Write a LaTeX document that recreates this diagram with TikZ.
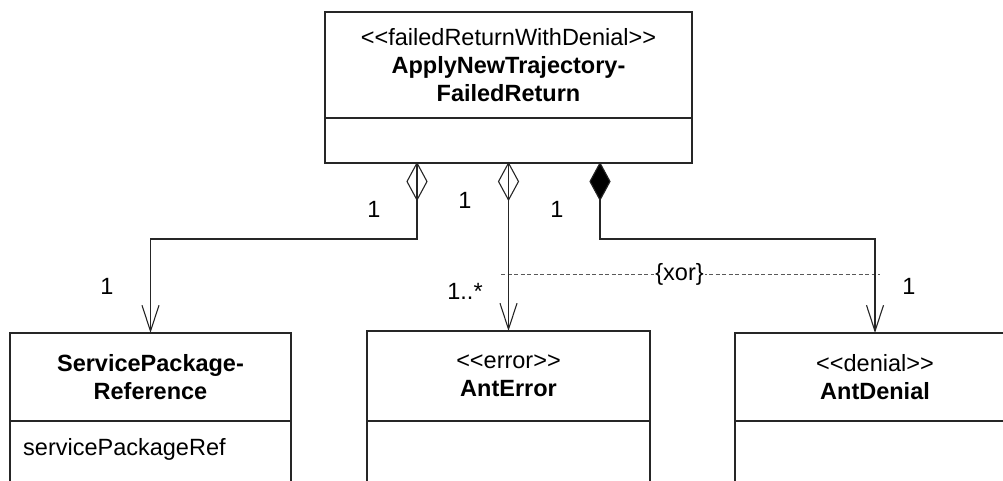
\documentclass[tikz,border=0pt]{standalone}
\usepackage{fontspec}
\setmainfont{Liberation Sans}
\usetikzlibrary{positioning,arrows.meta}

\newcommand\stereo[1]{<\kern0pt<#1>\kern0pt>}

\tikzset{
  uml/.style={font=\fontsize{23.5}{28}\selectfont},
  classhead/.style={uml, draw=black!85, line width=1.1pt, outer sep=0pt, inner sep=0pt, align=center},
  classbody/.style={draw=black!85, line width=1.1pt, outer sep=0pt, inner sep=0pt},
  assoc/.style={draw=black!85, line width=1.1pt, -{Straight Barb[length=26pt,width=17pt]}},
  xorline/.style={draw=black!65, line width=0.9pt, dash pattern=on 4pt off 2.5pt},
  umldiamond/.pic={\draw[black!85, line width=1.1pt, fill=#1] (0,0) -- (10,-18.5) -- (0,-37) -- (-10,-18.5) -- cycle;}
}

\begin{document}
\begin{tikzpicture}[x=1pt,y=1pt]

\useasboundingbox (0,0) rectangle (1003,-480);
\clip (0,0) rectangle (1003,-480);

% -------------------------------------------------
% Classes
% -------------------------------------------------
\node[classhead, minimum width=367pt, minimum height=106pt] (anf) at (508.5,-65)
  {\stereo{failedReturnWithDenial}\\\textbf{ApplyNewTrajectory-}\\\textbf{FailedReturn}};
\node[classbody, minimum width=367pt, minimum height=45pt, below=0pt of anf] (anfops) {};

\node[classhead, minimum width=281pt, minimum height=88pt] (spr) at (150.5,-377)
  {\textbf{ServicePackage-}\\\textbf{Reference}};
\node[classbody, minimum width=281pt, minimum height=70pt, below=0pt of spr] (sprattr) {};
\node[uml, inner sep=0pt, anchor=base west] (sprref) at ([xshift=13pt,yshift=-34pt]sprattr.north west)
  {servicePackageRef};

\node[classhead, minimum width=283pt, minimum height=90pt] (err) at (508.5,-376)
  {\stereo{error}\\\textbf{AntError}};
\node[classbody, minimum width=283pt, minimum height=70pt, below=0pt of err] (errattr) {};

\node[classhead, minimum width=280pt, minimum height=88pt] (den) at (875,-377)
  {\stereo{denial}\\\textbf{AntDenial}};
\node[classbody, minimum width=280pt, minimum height=70pt, below=0pt of den] (denattr) {};

% -------------------------------------------------
% {xor} constraint
% -------------------------------------------------
\coordinate (xorl) at (501,-274);
\coordinate (xorr) at (880,-274);
\draw[xorline] (xorl) -- node[uml, pos=0.471, fill=white, inner xsep=1pt, inner ysep=0pt] (xor) {\{xor\}} (xorr);

% -------------------------------------------------
% Associations
% -------------------------------------------------
\draw[assoc] ([xshift=-91.5pt]anfops.south) -- ++(0,-76) -| (spr.north);
\draw[assoc] (anfops.south) -- (err.north);
\draw[assoc] ([xshift=91.5pt]anfops.south) -- ++(0,-76) -| (den.north);

\pic at ([xshift=-91.5pt]anfops.south) {umldiamond=none};
\pic at (anfops.south) {umldiamond=none};
\pic at ([xshift=91.5pt]anfops.south) {umldiamond=black};

% -------------------------------------------------
% Multiplicities
% -------------------------------------------------
\foreach \n/\x/\y/\t in {m1/374/-209/1, m2/465/-200/1, m3/557/-209/1,
                         m4/107/-286/1, m5/465/-291/{1..*}, m6/909/-286/1}
  \node[uml] (\n) at (\x,\y) {\t};

\end{tikzpicture}
\end{document}
